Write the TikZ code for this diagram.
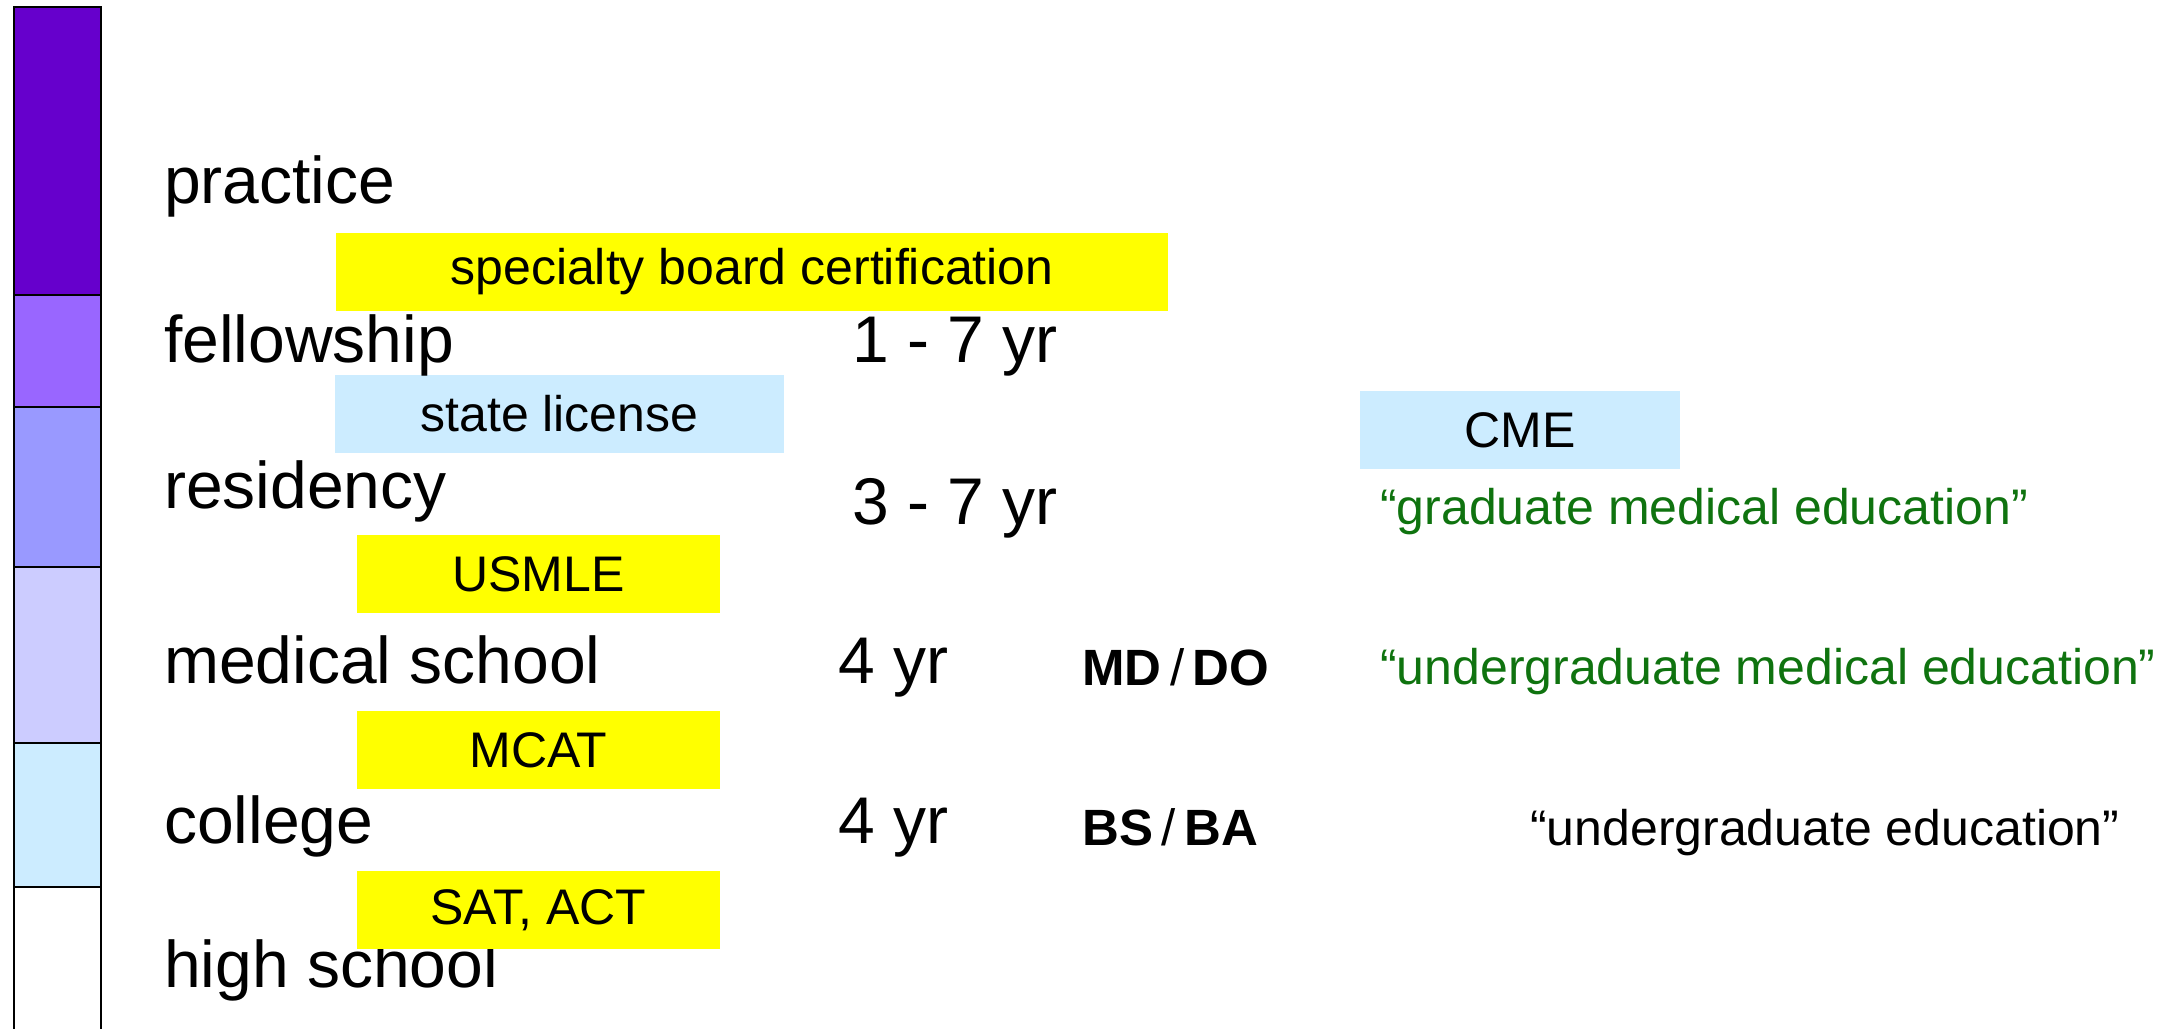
\documentclass[tikz,border=0pt]{standalone}
\usepackage{fontspec}
\setmainfont{Liberation Sans}
\definecolor{barA}{HTML}{6600CC}
\definecolor{barB}{HTML}{9966FF}
\definecolor{barC}{HTML}{9999FF}
\definecolor{barD}{HTML}{CCCCFF}
\definecolor{barE}{HTML}{CCECFF}
\definecolor{boxyellow}{HTML}{FFFF00}
\definecolor{boxblue}{HTML}{CCECFF}
\definecolor{gmegreen}{HTML}{0F730F}
\tikzset{
  stage/.style={anchor=base west, inner sep=0pt, font=\fontsize{66}{70}\selectfont},
  yrs/.style={anchor=base west, inner sep=0pt, font=\fontsize{66}{70}\selectfont},
  degree/.style={anchor=base west, inner sep=0pt, font=\fontsize{51}{56}\selectfont\bfseries},
  note/.style={anchor=base west, inner sep=0pt, font=\fontsize{50}{56}\selectfont},
  gnote/.style={note, text=gmegreen},
  exam/.style={inner sep=0pt, fill=boxyellow, font=\fontsize{50}{56}\selectfont},
  lic/.style={inner sep=0pt, fill=boxblue, font=\fontsize{50}{56}\selectfont},
  seg/.style={draw=black, line width=1.5pt}
}
\begin{document}
\begin{tikzpicture}[x=1pt,y=-1pt]
\useasboundingbox (0,0) rectangle (2179,1028);
% colour bar
\filldraw[seg, fill=barA] (14,7) rectangle (101,295);
\filldraw[seg, fill=barB] (14,295) rectangle (101,407);
\filldraw[seg, fill=barC] (14,407) rectangle (101,567);
\filldraw[seg, fill=barD] (14,567) rectangle (101,743);
\filldraw[seg, fill=barE] (14,743) rectangle (101,887);
\filldraw[seg, fill=white] (14,887) rectangle (101,1040);
% boxes
\node[exam, minimum width=832pt, minimum height=78pt] (sbc) at (752,272) {specialty board certification};
\node[lic, minimum width=449pt, minimum height=78pt] (lic) at (559.5,414) {state license};
\node[lic, minimum width=320pt, minimum height=78pt] (cme) at (1520,430) {CME};
\node[exam, minimum width=363pt, minimum height=78pt] (usmle) at (538.5,574) {USMLE};
\node[exam, minimum width=363pt, minimum height=78pt] (mcat) at (538.5,750) {MCAT};
% stages
\node[stage] (practice) at (164,203) {practice};
\node[stage] (fellow) at (164,362) {fellowship};
\node[stage] (resid) at (164,508) {residency};
\node[stage] (med) at (164,683) {medical school};
\node[stage] (coll) at (164,843) {college};
\node[stage] (hs) at (164,987) {high school};
\node[exam, minimum width=363pt, minimum height=78pt] (sat) at (538.5,910) {SAT, ACT};
% years
\node[yrs] (y1) at (852,362) {1 - 7 yr};
\node[yrs] (y2) at (852,524) {3 - 7 yr};
\node[yrs] (y3) at (838,683) {4 yr};
\node[yrs] (y4) at (838,843) {4 yr};
% degrees
\node[degree] (mddo) at (1082,685) {MD\,{\mdseries/}\,DO};
\node[degree] (bsba) at (1082,845) {BS\,{\mdseries/}\,BA};
% notes
\node[gnote] (gme) at (1380,524) {“graduate medical education”};
\node[gnote] (ume) at (1380,684) {“undergraduate medical education”};
\node[note] (ue) at (1530,845) {“undergraduate education”};
\end{tikzpicture}
\end{document}
